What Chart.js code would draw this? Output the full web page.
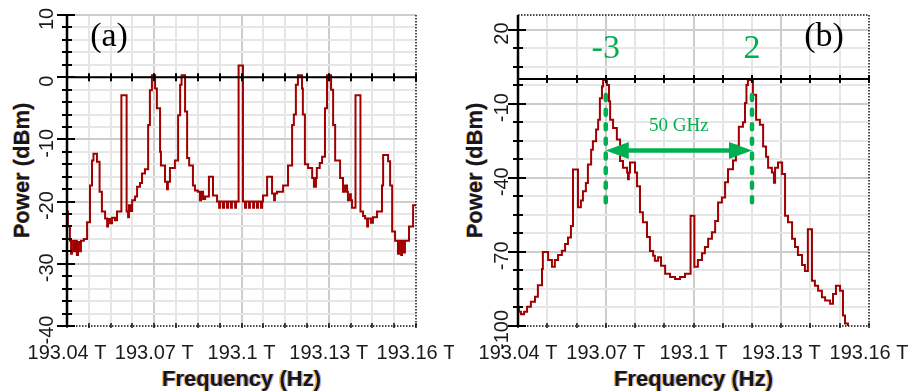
<!DOCTYPE html>
<html>
<head>
<meta charset="utf-8">
<script src="https://cdn.jsdelivr.net/npm/chart.js@4.4.1/dist/chart.umd.min.js"></script>
<style>
  html, body { margin: 0; padding: 0; background: #fff; }
  #wrap { position: relative; width: 908px; height: 391px; }
  .panel { position: absolute; top: 0; width: 454px; height: 391px; }
</style>
</head>
<body>
<div id="wrap">
  <div class="panel" style="left:0"><canvas id="specA" width="454" height="391"></canvas></div>
  <div class="panel" style="left:454px"><canvas id="specB" width="454" height="391"></canvas></div>
</div>
<script>
const F0 = 193.04;   // THz, left edge of both spans
const SPAN = 120;    // GHz shown

// (a) comb spectrum, stepped trace: start of each step (GHz above F0) and its level (dBm)
const freqA = [
  0, 0.3, 1.0, 1.4, 1.7, 2.4, 2.8, 3.4, 3.8, 4.5,
  4.8, 5.8, 6.9, 7.9, 8.6, 9.1, 10.3, 11.2, 12.0, 13.1,
  13.8, 14.1, 14.8, 15.5, 16.5, 17.2, 18.7, 20.5, 21.0, 21.3,
  22.0, 22.4, 23.4, 24.1, 25.1, 25.8, 26.8, 27.9, 28.5, 29.2,
  30.3, 30.9, 32.0, 32.3, 33.7, 34.4, 34.7, 35.4, 37.1, 38.2,
  38.9, 39.4, 40.6, 41.3, 42.0, 43.3, 44.0, 45.0, 45.7, 46.1,
  46.8, 47.5, 48.8, 50.2, 51.6, 52.3, 52.6, 53.6, 54.0, 55.0,
  55.4, 56.4, 56.7, 57.8, 58.1, 59.0, 60.5, 61.2, 61.6, 62.6,
  62.9, 64.0, 64.3, 65.3, 65.7, 66.7, 67.1, 67.4, 68.8, 70.5,
  71.2, 71.5, 72.2, 74.3, 76.0, 77.4, 78.0, 78.7, 79.4, 80.8,
  81.1, 81.8, 82.9, 84.3, 84.9, 85.6, 85.9, 86.9, 87.7, 88.7,
  89.4, 90.8, 91.5, 92.2, 93.9, 94.9, 95.6, 96.3, 96.6, 97.3,
  97.6, 98.0, 99.2, 100.9, 101.8, 102.5, 103.2, 103.5, 104.5, 105.2,
  106.6, 108.3, 108.7, 110.4, 111.1, 111.8, 112.8, 113.8, 114.2, 114.9,
  115.2, 115.9, 116.2, 117.6, 119.0, 120
];
const powerA = [
  -21.6, -24, -26.3, -28.4, -26.3, -28.0, -26.3, -28.6, -26.5, -28.0,
  -26.3, -26.0, -23.3, -17.4, -13.4, -12.3, -13.6, -18.4, -21.6, -22.7,
  -24, -22.8, -23.5, -22.6, -23.0, -21.6, -2.9, -21.6, -22.5, -20.6,
  -21.5, -19.8, -19.2, -17.6, -17.0, -15.5, -14.8, -7.7, -2.1, 0.3,
  -1.8, -5, -12, -14.2, -16.8, -18, -16.8, -14.6, -13.4, -6.1,
  -1.2, 0.3, -5.5, -13, -14.2, -17.4, -18.2, -18.4, -19.8, -18.4,
  -19.6, -19.2, -16.0, -19.0, -20, -21, -20, -21, -20, -21,
  -20, -21, -20, -21, -20, 1.9, -20, -21, -20, -21,
  -20, -21, -20, -21, -20, -21, -20, -19, -16, -18.7,
  -19.8, -18.7, -18.4, -17.4, -14.2, -7.7, -6, -1.2, 0.3, -1.8,
  -6, -14, -14.6, -16.2, -17.6, -16.2, -14.6, -13.8, -12.8, -5,
  0.3, -2, -7.7, -13.4, -16.2, -18.4, -17.4, -18.4, -19.8, -18.8,
  -19.8, -21, -2.9, -21.6, -22.3, -22.7, -24, -22.7, -23.4, -22.5,
  -21.6, -17.4, -12.5, -13.5, -17.4, -24.8, -26.3, -28.4, -26.3, -28.6,
  -26.3, -28.2, -26.3, -24, -20.6, -20.6
];

// (b) filtered spectrum, same layout
const freqB = [
  0, 0.3, 1.0, 2.1, 3.1, 4.4, 5.8, 6.8, 8.2, 8.5,
  10.3, 11.6, 12.6, 13.7, 15.0, 16.1, 17.1, 18.1, 18.8, 20.5,
  21.5, 22.2, 23.2, 23.9, 25.0, 25.6, 26.7, 27.4, 28.0, 28.7,
  29.1, 30.4, 31.1, 31.5, 32.5, 33.8, 34.9, 35.9, 37.3, 37.6,
  37.9, 38.3, 40.0, 40.7, 41.7, 42.7, 44.1, 45.1, 46.2, 46.8,
  47.9, 48.9, 50.3, 52.0, 53.7, 55.4, 57.1, 59.0, 60.3, 61.5,
  62.9, 63.9, 65.0, 66.3, 67.4, 68.4, 69.7, 70.8, 71.8, 73.5,
  74.5, 75.5, 76.9, 77.6, 78.1, 78.6, 80.3, 81.4, 82.7, 83.8,
  84.8, 85.5, 86.8, 87.5, 87.9, 88.9, 90.3, 91.3, 92.3, 93.7,
  94.7, 95.7, 97.1, 98.1, 99.1, 100.5, 101.5, 102.6, 103.9, 105.0,
  106.7, 107.7, 108.7, 110.1, 111.1, 111.8, 112.8, 120
];
const powerB = [
  -92.2, -94.2, -95.2, -94.2, -92.2, -90.2, -88.2, -83.5, -76.9, -70,
  -73.3, -76, -73.3, -71.3, -69.5, -66.8, -64.2, -59.5, -36.6, -51.9,
  -49.2, -45.5, -42.1, -34.6, -28.6, -25.2, -20.5, -16.5, -7.8, -3,
  -0.4, -2.4, -9, -16.5, -19.8, -24.5, -33.2, -35.9, -37.9, -40.6,
  -37.9, -33.8, -37.9, -43.4, -54, -58, -64, -69.6, -71.6, -73.6,
  -72.2, -75.6, -78.8, -80.2, -81, -80.2, -78.8, -55.4, -76, -73.3,
  -70.5, -68, -64.7, -62, -57.5, -50, -48, -41.8, -36.5, -33,
  -27, -19.3, -17.5, -9.7, -2.4, -0.4, -6.4, -16.5, -18.5, -27.3,
  -31.5, -35.9, -37.9, -42, -35.9, -33.8, -38.5, -55.4, -58, -64.7,
  -68, -71.3, -75.3, -77.7, -60.8, -81.7, -83.7, -85.7, -88.4, -89.7,
  -91, -87, -83.7, -85.7, -95.7, -99, -102, -102
];

// selected lines in (b) and their spacing
const markerFreq = [193.07, 193.12];
const markerText = ['-3', '2'];
const spacingText = '50 GHz';

const GREEN = '#00b050';
const TRACE = '#a00000';

function toPoints(freq, power) {
  return freq.map((f, i) => ({ x: F0 + f / 1000, y: power[i] }));
}

function tickList(start, step, count) {
  const out = [];
  for (let k = 0; k < count; k++) out.push(+(start + k * step).toFixed(6));
  return out;
}

const xTicksA = tickList(F0, 0.0075, 17);
const yTicksA = tickList(-40, 2, 26);
const xTicksB = tickList(F0, 0.01, 13);
const yTicksB = tickList(-100, 7.5, 17);

// every 30 GHz gets a label
const isMajorX = v => Math.round((v - F0) * 1e4) % 300 === 0;

function freqLabel(v) {
  return (+v.toFixed(2)).toString() + ' T';
}

function text(ctx, str, x, y, o) {
  ctx.save();
  ctx.font = o.font;
  ctx.textAlign = o.align || 'center';
  ctx.textBaseline = o.baseline || 'alphabetic';
  const layers = o.fringe
    ? [[-1.3, 'rgba(255,165,20,0.85)'], [1.3, 'rgba(50,100,255,0.5)'], [0, o.color]]
    : [[0, o.color]];
  layers.forEach(([dx, col]) => {
    ctx.save();
    ctx.translate(x + dx, y);
    if (o.rotate) ctx.rotate(o.rotate);
    ctx.fillStyle = col;
    ctx.fillText(str, 0, 0);
    ctx.restore();
  });
  ctx.restore();
}

function framePlugin(cfg) {
  return {
    id: 'frame',
    afterDatasetsDraw(chart) {
      const { ctx, chartArea: a, scales: { x, y } } = chart;
      const y0 = y.getPixelForValue(0);
      ctx.save();

      // dotted outline
      ctx.strokeStyle = '#111';
      ctx.lineWidth = 1.5;
      ctx.setLineDash([1.5, 1.5]);
      ctx.beginPath();
      ctx.moveTo(a.left, a.bottom); ctx.lineTo(a.right, a.bottom);
      ctx.moveTo(a.right, a.top); ctx.lineTo(a.right, a.bottom);
      if (cfg.dottedTop) { ctx.moveTo(a.left, a.top); ctx.lineTo(a.right, a.top); }
      ctx.stroke();
      ctx.setLineDash([]);

      // small marks on the bottom edge
      ctx.lineWidth = 1.5;
      ctx.beginPath();
      cfg.xTicks.forEach(v => {
        const px = Math.round(x.getPixelForValue(v));
        ctx.moveTo(px, a.bottom - 3); ctx.lineTo(px, a.bottom + 2);
      });
      ctx.stroke();

      // x axis drawn through 0 dBm
      ctx.strokeStyle = '#000';
      ctx.lineWidth = 2;
      ctx.beginPath();
      ctx.moveTo(a.left, y0); ctx.lineTo(a.right, y0);
      cfg.xTicks.forEach(v => {
        const px = Math.round(x.getPixelForValue(v));
        ctx.moveTo(px, y0 - 4); ctx.lineTo(px, y0 + 4);
      });
      ctx.stroke();

      // y axis
      ctx.lineWidth = 2.5;
      ctx.beginPath();
      ctx.moveTo(a.left, a.top); ctx.lineTo(a.left, a.bottom);
      ctx.stroke();
      ctx.lineWidth = 2;
      ctx.beginPath();
      cfg.yTicks.forEach(v => {
        const py = Math.round(y.getPixelForValue(v));
        if (cfg.isMajorY(v)) { ctx.moveTo(a.left - 10, py); ctx.lineTo(a.left + 8, py); }
        else { ctx.moveTo(a.left - 5, py); ctx.lineTo(a.left + 5, py); }
      });
      ctx.stroke();

      // tick labels
      cfg.xTicks.filter(isMajorX).forEach(v => {
        text(ctx, freqLabel(v), x.getPixelForValue(v), a.bottom + 33,
          { font: '20px "Liberation Sans"', color: '#1a1a1a' });
      });
      cfg.yTicks.filter(cfg.isMajorY).forEach(v => {
        text(ctx, String(v), cfg.yLabelX, y.getPixelForValue(v) + 4,
          { font: '20px "Liberation Sans"', color: '#1a1a1a', baseline: 'alphabetic', rotate: -Math.PI / 2 });
      });

      // axis titles
      text(ctx, 'Frequency (Hz)', (a.left + a.right) / 2, 386,
        { font: 'bold 22px "Liberation Sans"', color: '#16161e', fringe: true });
      text(ctx, 'Power (dBm)', cfg.yTitleX, (a.top + a.bottom) / 2,
        { font: 'bold 22px "Liberation Sans"', color: '#16161e', fringe: true, rotate: -Math.PI / 2 });

      // panel letter
      text(ctx, cfg.letter, cfg.letterX, 37,
        { font: '34px "Liberation Serif"', color: '#000', baseline: 'middle' });

      if (cfg.annotate) cfg.annotate(chart);
      ctx.restore();
    }
  };
}

function arrowHead(ctx, tipX, py, dir) {
  ctx.beginPath();
  ctx.moveTo(tipX, py);
  ctx.lineTo(tipX + dir * 23, py - 8.5);
  ctx.lineTo(tipX + dir * 23, py + 8.5);
  ctx.closePath();
  ctx.fill();
}

// markers, spacing arrow and line numbers in (b)
function annotateB(chart) {
  const { ctx, scales: { x, y } } = chart;
  const xs = markerFreq.map(f => x.getPixelForValue(f));
  ctx.save();
  ctx.strokeStyle = GREEN;
  ctx.fillStyle = GREEN;

  ctx.lineWidth = 4.5;
  ctx.lineCap = 'round';
  ctx.setLineDash([5, 9.6]);
  ctx.beginPath();
  xs.forEach(px => {
    ctx.moveTo(px, y.getPixelForValue(-6.5));
    ctx.lineTo(px, y.getPixelForValue(-52));
  });
  ctx.stroke();
  ctx.setLineDash([]);

  const ay = y.getPixelForValue(-29);
  ctx.lineCap = 'butt';
  ctx.lineWidth = 4.5;
  ctx.beginPath();
  ctx.moveTo(xs[0] + 20, ay); ctx.lineTo(xs[1] - 20, ay);
  ctx.stroke();
  arrowHead(ctx, xs[0], ay, 1);
  arrowHead(ctx, xs[1], ay, -1);

  text(ctx, spacingText, (xs[0] + xs[1]) / 2, y.getPixelForValue(-19),
    { font: '19px "Liberation Serif"', color: GREEN, baseline: 'middle' });
  markerText.forEach((t, i) => {
    text(ctx, t, xs[i], y.getPixelForValue(12.3),
      { font: '34px "Liberation Serif"', color: GREEN, baseline: 'middle' });
  });
  ctx.restore();
}

function spectrumChart(id, cfg) {
  const ctx = document.getElementById(id).getContext('2d');
  const lastX = cfg.xTicks[cfg.xTicks.length - 1];
  return new Chart(ctx, {
    type: 'line',
    data: {
      datasets: [{
        data: cfg.points,
        stepped: true,
        borderColor: TRACE,
        borderWidth: 2,
        pointRadius: 0,
        fill: false
      }]
    },
    options: {
      responsive: false,
      animation: false,
      devicePixelRatio: 1,
      layout: { padding: { left: 0, top: 15, right: cfg.padRight, bottom: 0 } },
      plugins: { legend: { display: false }, tooltip: { enabled: false } },
      scales: {
        x: {
          type: 'linear',
          min: F0,
          max: F0 + SPAN / 1000,
          afterBuildTicks: s => { s.ticks = cfg.xTicks.map(v => ({ value: v })); },
          afterFit: s => { s.height = 65; },
          ticks: { display: false, autoSkip: false },
          border: { display: false },
          grid: {
            drawTicks: false,
            lineWidth: 2,
            color: c => {
              const v = c.tick.value;
              if (v === F0 || v === lastX) return 'rgba(0,0,0,0)';
              return isMajorX(v) ? '#cdcdcd' : '#e6e6e6';
            }
          }
        },
        y: {
          min: cfg.yMin,
          max: cfg.yMax,
          afterBuildTicks: s => { s.ticks = cfg.yTicks.map(v => ({ value: v })); },
          afterFit: s => { s.width = cfg.axisLeft; },
          ticks: { display: false, autoSkip: false },
          border: { display: false },
          grid: {
            drawTicks: false,
            lineWidth: 2,
            color: c => {
              const v = c.tick.value;
              if (v === cfg.yMin) return 'rgba(0,0,0,0)';
              return cfg.isMajorY(v) ? '#cdcdcd' : '#e6e6e6';
            }
          }
        }
      }
    },
    plugins: [framePlugin(cfg)]
  });
}

spectrumChart('specA', {
  points: toPoints(freqA, powerA),
  xTicks: xTicksA,
  yTicks: yTicksA,
  yMin: -40,
  yMax: 10,
  isMajorY: v => v % 10 === 0,
  axisLeft: 67,
  padRight: 38,
  yLabelX: 53,
  yTitleX: 29,
  letter: '(a)',
  letterX: 109,
  dottedTop: false
});

spectrumChart('specB', {
  points: toPoints(freqB, powerB),
  xTicks: xTicksB,
  yTicks: yTicksB,
  yMin: -100,
  yMax: 25.9,
  isMajorY: v => Math.abs((v + 100) % 30) < 1e-6,
  axisLeft: 64,
  padRight: 39,
  yLabelX: 54,
  yTitleX: 28,
  letter: '(b)',
  letterX: 370,
  dottedTop: true,
  annotate: annotateB
});
</script>
</body>
</html>
